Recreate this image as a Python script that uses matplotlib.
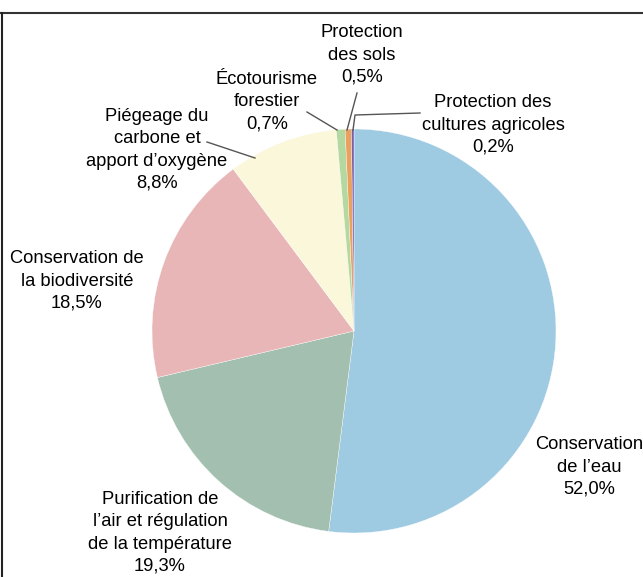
import matplotlib.pyplot as plt
from matplotlib.lines import Line2D

plt.rcParams['font.family'] = ['Liberation Sans', 'DejaVu Sans']

# Data
labels = ["Conservation\nde l’eau", "Purification de\nl’air et régulation\nde la température",
          "Conservation de\nla biodiversité", "Piégeage du\ncarbone et\napport d’oxygène",
          "Écotourisme\nforestier", "Protection\ndes sols", "Protection des\ncultures agricoles"]
values = [52.0, 19.3, 18.5, 8.8, 0.7, 0.5, 0.2]
colors = ["#9ecbe2", "#a3bfb0", "#e8b6b7", "#faf7db", "#b4d89f", "#e9a15f", "#7d5ea8"]

# label text centres (pixel coords, y from bottom)
label_pos = [(589, 110), (160, 44), (77, 296), (157, 427), (267, 475), (362, 522), (493, 452)]
# leader lines for the small slices
leaders = {
    3: [(207, 435), (255, 419)],
    4: [(307, 465), (337, 447)],
    5: [(357, 484), (347, 447)],
    6: [(353, 447), (355, 462), (420, 464)],
}

W, H = 643, 577
fig = plt.figure(figsize=(W / 100, H / 100), dpi=100)
ax = fig.add_axes([0, 0, 1, 1])

ax.pie(values, colors=colors, startangle=90, counterclock=False,
       center=(354, 246), radius=202, frame=True,
       wedgeprops=dict(edgecolor='white', linewidth=0.25))
ax.axis('off')
ax.set_xlim(0, W)
ax.set_ylim(0, H)
ax.set_aspect('equal')

for i, (lab, v) in enumerate(zip(labels, values)):
    txt = f"{lab}\n{v:.1f}%".replace('.', ',')
    x, y = label_pos[i]
    ax.text(x, y, txt, ha='center', va='center', fontsize=13.2, linespacing=1.4, color='black')

for pts in leaders.values():
    xs, ys = zip(*pts)
    ax.plot(xs, ys, color='#555555', lw=1.0)

# frame of the original figure (top and left only)
fig.add_artist(Line2D([0, 1], [1 - 12.5 / H, 1 - 12.5 / H], color='#333333', lw=1.5, transform=fig.transFigure))
fig.add_artist(Line2D([1.5 / W, 1.5 / W], [0, 1 - 12.5 / H], color='#222222', lw=1.5, transform=fig.transFigure))

fig.savefig("out.png", dpi=100)
